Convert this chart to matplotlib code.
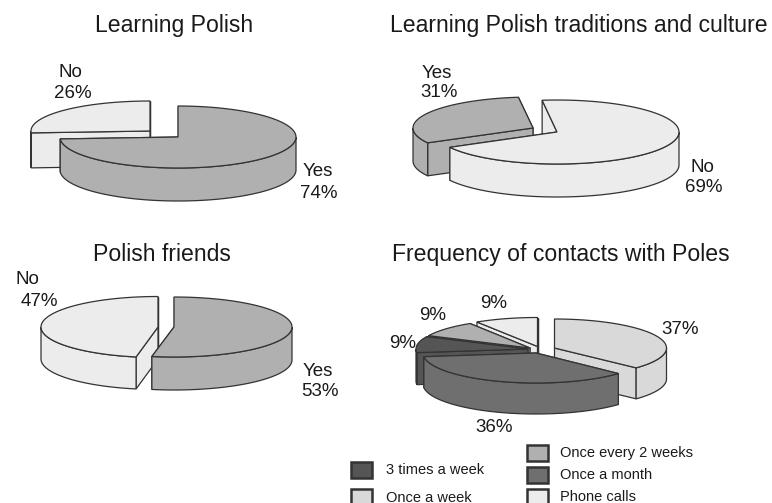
import numpy as np
import matplotlib
matplotlib.use("Agg")
import matplotlib.pyplot as plt
from matplotlib.patches import Polygon, Rectangle

plt.rcParams['font.family'] = ['Liberation Sans', 'DejaVu Sans']

# values (percent)
polish_values = [26, 74]
culture_values = [31, 69]
friends_values = [47, 53]
contact_values = [37, 36, 9, 9, 9]

legend_left = ['3 times a week', 'Once a week']
legend_right = ['Once every 2 weeks', 'Once a month', 'Phone calls']

LIGHT = '#ececec'
MID = '#b0b0b0'
EDGE = '#333333'
TEXT = '#1a1a1a'
COL_WEEK = '#d9d9d9'
COL_MONTH = '#6f6f6f'
COL_3X = '#555555'


def ellipse_pts(cx, cy, rx, ry, a_from, a_to, dy=0):
    t = np.radians(np.linspace(a_from, a_to, 80))
    return np.column_stack([cx + rx * np.cos(t), cy - ry * np.sin(t) + dy])


def draw_slice(ax, centre, radii, depth, start, value, color):
    # start is the angle of the first edge, the slice runs clockwise
    cx, cy = centre
    rx, ry = radii
    sweep = value / 100 * 360
    end = start - sweep
    # back cut face goes down first so the nearer one hides it
    edges = [ellipse_pts(cx, cy, rx, ry, a, a)[0] for a in (start, end)]
    edges.sort(key=lambda e: e[1])
    for edge in edges:
        face = [(cx, cy), edge, (edge[0], edge[1] + depth), (cx, cy + depth)]
        ax.add_patch(Polygon(face, fc=color, ec=EDGE, lw=0.9))
    # outer wall, only the part facing the viewer
    for k in (-1, 0, 1):
        lo = max(end, -180 + 360 * k)
        hi = min(start, 360 * k)
        if hi > lo:
            up = ellipse_pts(cx, cy, rx, ry, hi, lo)
            down = ellipse_pts(cx, cy, rx, ry, lo, hi, depth)
            ax.add_patch(Polygon(np.vstack([up, down]), fc=color, ec=EDGE, lw=0.9))
    top = np.vstack([[(cx, cy)], ellipse_pts(cx, cy, rx, ry, start, end)])
    ax.add_patch(Polygon(top, fc=color, ec=EDGE, lw=0.9))


fig = plt.figure(figsize=(7.72, 5.03), dpi=100)
ax = fig.add_axes([0, 0, 1, 1])
ax.set_xlim(0, 772)
ax.set_ylim(503, 0)
ax.axis('off')

# Learning Polish
draw_slice(ax, (150, 131), (119, 30), 35, 90 + polish_values[0] / 100 * 360, polish_values[0], LIGHT)
draw_slice(ax, (178, 137), (118, 31), 33, 90, polish_values[1], MID)

# Learning Polish traditions and culture
draw_slice(ax, (533, 128), (120, 31), 33, 97 + culture_values[0] / 100 * 360, culture_values[0], MID)
draw_slice(ax, (557, 132), (122, 32), 33, 97, culture_values[1], LIGHT)

# Polish friends
draw_slice(ax, (158, 327), (117, 30.5), 32, 90 + friends_values[0] / 100 * 360, friends_values[0], LIGHT)
draw_slice(ax, (174, 327), (118, 30), 33, 90, friends_values[1], MID)

# Frequency of contacts, each slice pulled out on its own
a1 = 90 - contact_values[0] / 100 * 360
a2 = a1 - contact_values[1] / 100 * 360
a3 = a2 - contact_values[2] / 100 * 360
a4 = a3 - contact_values[3] / 100 * 360
draw_slice(ax, (554.5, 348), (112, 29), 31, 90, contact_values[0], COL_WEEK)
draw_slice(ax, (537.5, 346.5), (113, 29), 31, a4, contact_values[4], LIGHT)
draw_slice(ax, (530, 348), (112, 29), 31, a3, contact_values[3], MID)
draw_slice(ax, (528, 349), (112, 29), 32, a2, contact_values[2], COL_3X)
draw_slice(ax, (536, 353), (113, 30), 31, a1, contact_values[1], COL_MONTH)

# titles
title_size = 16.6
ax.text(95, 32, 'Learning Polish', va='baseline', fontsize=title_size, color=TEXT)
ax.text(390, 32, 'Learning Polish traditions and culture', va='baseline', fontsize=title_size, color=TEXT)
ax.text(93, 261, 'Polish friends', va='baseline', fontsize=title_size, color=TEXT)
ax.text(392, 261, 'Frequency of contacts with Poles', va='baseline', fontsize=title_size, color=TEXT)

# slice labels
label_size = 13.5
labels = [
    ('No', 70, 72), ('26%', 73, 93), ('Yes', 318, 172), ('74%', 319, 193),
    ('Yes', 437, 73), ('31%', 439, 92), ('No', 702, 168), ('69%', 704, 188),
    ('No', 27, 280), ('47%', 39, 302), ('Yes', 318, 372), ('53%', 320, 392),
    ('9%', 494, 304), ('9%', 433, 316), ('9%', 403, 343), ('37%', 680, 329),
    ('36%', 494, 428),
]
for txt, x, y in labels:
    ax.text(x, y, txt, ha='center', va='center', fontsize=label_size, color=TEXT)

# legend
for name, col, y, base in zip(legend_left, [COL_3X, COL_WEEK], [462, 489], [474.5, 501.5]):
    ax.add_patch(Rectangle((351, y), 21, 16, fc=col, ec='#333333', lw=1.8))
    ax.text(386.5, base, name, va='baseline', fontsize=10.5, color=TEXT)
for name, col, y, base in zip(legend_right, [MID, COL_MONTH, LIGHT], [445, 467, 489], [456.5, 479, 501]):
    ax.add_patch(Rectangle((527, y), 21, 16, fc=col, ec='#333333', lw=1.8))
    ax.text(560, base, name, va='baseline', fontsize=10.5, color=TEXT)

fig.savefig('out.png', dpi=100, facecolor='white')
